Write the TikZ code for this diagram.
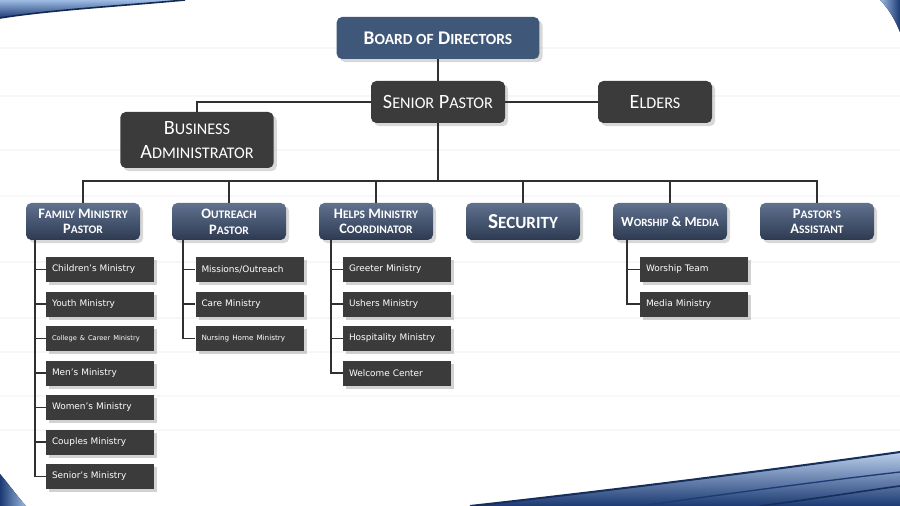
\documentclass[tikz,border=0pt]{standalone}
\usepackage{fontspec}
\setmainfont{Carlito}
\newfontfamily\leaffont{DejaVu Sans}
\usetikzlibrary{positioning,calc,shadows}

\definecolor{navy}{HTML}{3F5879}
\definecolor{slatetop}{HTML}{60728F}
\definecolor{slatebot}{HTML}{2D3A51}
\definecolor{charcoal}{HTML}{3B3B3B}
\definecolor{wire}{HTML}{303030}
\definecolor{swoosh}{HTML}{1C3A73}
\definecolor{swooshlt}{HTML}{9DBBE3}

\makeatletter
\newcommand\lowcaps[1]{{\fontsize{\fpeval{0.8*\f@size}}{0}\selectfont\MakeUppercase{#1}}}
\makeatother

\begin{document}
\begin{tikzpicture}[x=0.75pt,y=-0.75pt,
  every node/.style={text=white,align=center,inner sep=0pt},
  wire/.style={draw=wire,line width=1.1pt},
  board/.style={rounded corners=4pt,fill=navy,minimum width=152pt,minimum height=31.5pt,
    font=\bfseries\fontsize{14.5}{17}\selectfont,drop shadow={opacity=.3}},
  head/.style={rounded corners=4pt,fill=charcoal,minimum height=31.5pt,
    font=\fontsize{15.2}{18}\selectfont,drop shadow={opacity=.3}},
  dept/.style={rounded corners=4pt,top color=slatetop,bottom color=slatebot,
    minimum width=85.5pt,minimum height=27.75pt,
    font=\bfseries\fontsize{10.8}{11.8}\selectfont,drop shadow={opacity=.3}},
  leaf/.style={fill=charcoal,text width=72pt,inner xsep=4.5pt,minimum height=18.75pt,
    align=left,font=\leaffont\fontsize{6.7}{8}\selectfont,drop shadow={opacity=.35}}]
\useasboundingbox (0,0) rectangle (900,506);
\fill[white] (0,0) rectangle (900,506);
% faint streaks
\foreach \y in {48,96,150,196,262,318,352,396,430}
  \draw[black!3,line width=2pt] (0,\y) -- (900,\y);

% corner swooshes
\fill[top color=swooshlt,bottom color=swoosh] (0,0) -- (185,0) .. controls (120,6) and (50,10) .. (0,18) -- cycle;
\draw[swoosh!70!black,line width=1.2pt] (185,0) .. controls (120,6) and (50,10) .. (0,18);
\fill[left color=swooshlt,right color=swoosh] (880,0) .. controls (889,9) and (895,20) .. (900,32) -- (900,0) -- cycle;
\fill[left color=swoosh,right color=swooshlt] (0,474) .. controls (10,486) and (18,497) .. (26,506) -- (0,506) -- cycle;
\fill[top color=swooshlt!70,bottom color=swoosh] (470,506) .. controls (650,486) and (800,466) .. (900,452) -- (900,506) -- cycle;
\draw[swoosh!80!black,line width=1.5pt] (470,506) .. controls (650,486) and (800,466) .. (900,452);
\draw[swoosh,line width=1pt] (640,506) .. controls (740,492) and (830,480) .. (900,472);
\draw[swoosh!80!black,line width=1.2pt] (760,506) .. controls (820,498) and (870,490) .. (900,486);

% top of the chart
\node[board] (board) at (438,38) {B\lowcaps{oard of} D\lowcaps{irectors}};
\node[head,minimum width=100.5pt] (senior) at (438,102) {S\lowcaps{enior} P\lowcaps{astor}};
\node[head,minimum width=85.5pt] (elders) at (655,102) {E\lowcaps{lders}};
\node[head,minimum width=115pt,minimum height=42pt] (admin) at (197,140) {B\lowcaps{usiness}\\A\lowcaps{dministrator}};

% departments
\node[dept] (family) at (83,221.5) {F\lowcaps{amily} M\lowcaps{inistry}\\P\lowcaps{astor}};
\node[dept] (outreach) at (229,221.5) {O\lowcaps{utreach}\\P\lowcaps{astor}};
\node[dept] (helps) at (376,221.5) {H\lowcaps{elps} M\lowcaps{inistry}\\C\lowcaps{oordinator}};
\node[dept,font=\bfseries\fontsize{16}{17}\selectfont] (security) at (523,221.5) {S\lowcaps{ecurity}};
\node[dept,font=\bfseries\fontsize{10.4}{11.8}\selectfont] (worship) at (670,221.5) {W\lowcaps{orship} \& M\lowcaps{edia}};
\node[dept] (assistant) at (817,221.5) {P\lowcaps{astor’s}\\A\lowcaps{ssistant}};

% ministries
\foreach \txt [count=\i] in {Children’s Ministry,Youth Ministry,{\fontsize{5}{6}\selectfont College \& Career Ministry},Men’s Ministry,Women’s Ministry,Couples Ministry,Senior’s Ministry}
  \node[leaf] (fam\i) at (100,{269.5+34.5*(\i-1)}) {\txt};
\foreach \txt [count=\i] in {Missions/Outreach,Care Ministry,{\fontsize{5.4}{6}\selectfont Nursing Home Ministry}}
  \node[leaf] (out\i) at (249.5,{269.5+34.5*(\i-1)}) {\txt};
\foreach \txt [count=\i] in {Greeter Ministry,Ushers Ministry,Hospitality Ministry,Welcome Center}
  \node[leaf] (help\i) at (397,{269.5+34.5*(\i-1)}) {\txt};
\foreach \txt [count=\i] in {Worship Team,Media Ministry}
  \node[leaf] (wor\i) at (694,{269.5+34.5*(\i-1)}) {\txt};

% connectors
\coordinate (bus) at (438,181);
\coordinate (famrail) at (35,240);
\coordinate (outrail) at (183,240);
\coordinate (helprail) at (331,240);
\coordinate (worrail) at (627,240);
\draw[wire] (board) -- (senior);
\draw[wire] (senior) -- (elders);
\draw[wire] (senior.west) -| (admin.north);
\draw[wire] (senior) -- (bus);
\foreach \d in {family,outreach,helps,security,worship,assistant}
  \draw[wire] (bus) -| (\d.north);
\foreach \i in {1,...,7} \draw[wire] (famrail) |- (fam\i.west);
\foreach \i in {1,...,3} \draw[wire] (outrail) |- (out\i.west);
\foreach \i in {1,...,4} \draw[wire] (helprail) |- (help\i.west);
\foreach \i in {1,2} \draw[wire] (worrail) |- (wor\i.west);
\end{tikzpicture}
\end{document}
